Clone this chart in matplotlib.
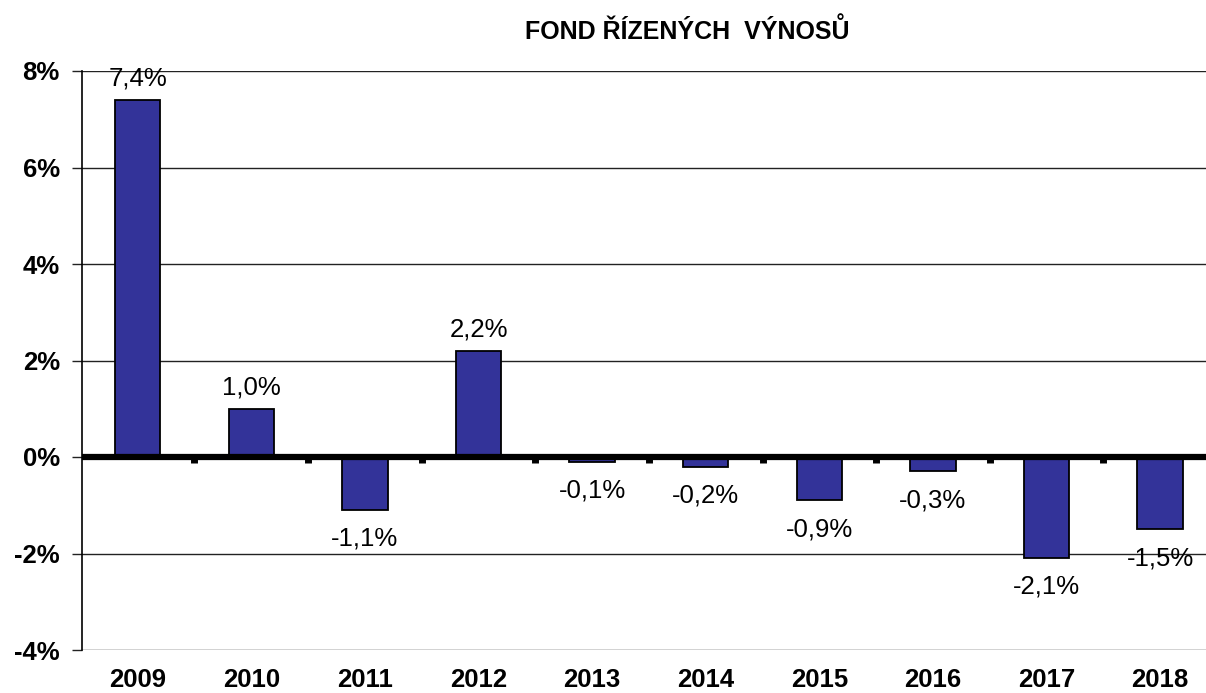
import matplotlib
matplotlib.use("Agg")
import matplotlib.pyplot as plt
import matplotlib.ticker as mticker
import numpy as np

plt.rcParams["font.family"] = ["Liberation Sans", "DejaVu Sans"]

title = "FOND ŘÍZENÝCH  VÝNOSŮ"
years = ["2009", "2010", "2011", "2012", "2013", "2014", "2015", "2016", "2017", "2018"]
returns = [7.4, 1.0, -1.1, 2.2, -0.1, -0.2, -0.9, -0.3, -2.1, -1.5]
y_ticks = [-4, -2, 0, 2, 4, 6, 8]

W, H = 1206, 693
fig = plt.figure(figsize=(W / 100, H / 100), dpi=100)
# right edge of the plot area runs slightly past the image edge, as in the original
ax = fig.add_axes([82 / W, 43 / H, (1217 - 82) / W, (650 - 71) / H])

x = np.arange(len(years))
ax.bar(x, returns, width=0.4, color="#333399", edgecolor="black", linewidth=1.3, zorder=3)

ax.set_xlim(-0.49, len(years) - 0.5)
ax.set_ylim(-4, 8)
ax.set_yticks(y_ticks)
ax.yaxis.set_major_formatter(mticker.FuncFormatter(lambda v, _: f"{v:.0f}%"))
ax.grid(axis="y", color="#222222", linewidth=1.0, zorder=1)

# zero line with small marks between categories
ax.axhline(0, color="black", linewidth=4.5, zorder=4)
bounds = x[:-1] + 0.5
ax.vlines(bounds, -0.13, 0, color="black", linewidth=5, zorder=4)

for s in ["top", "right", "bottom"]:
    ax.spines[s].set_visible(False)
ax.spines["left"].set_linewidth(1.2)
ax.spines["left"].set_zorder(5)

ax.set_xticks(x)
ax.set_xticklabels(years, fontsize=18.5, fontweight="bold")
ax.tick_params(axis="x", length=0, pad=13)
ax.tick_params(axis="y", length=7, width=1.0, color="#222222", pad=9,
               labelsize=18.5)
for lbl in ax.get_yticklabels():
    lbl.set_fontweight("bold")

for xi, v in zip(x, returns):
    txt = f"{v:.1f}%".replace(".", ",")
    if v >= 0:
        ax.annotate(txt, (xi, v), xytext=(0, 7), textcoords="offset points",
                    ha="center", va="bottom", fontsize=18.5, zorder=6)
    else:
        ax.annotate(txt, (xi, v), xytext=(0, -12), textcoords="offset points",
                    ha="center", va="top", fontsize=18.5, zorder=6)

fig.text(687 / W, 1 - 31 / H, title, ha="center", va="center",
         fontsize=18, fontweight="bold")

fig.savefig("out.png", dpi=100)
